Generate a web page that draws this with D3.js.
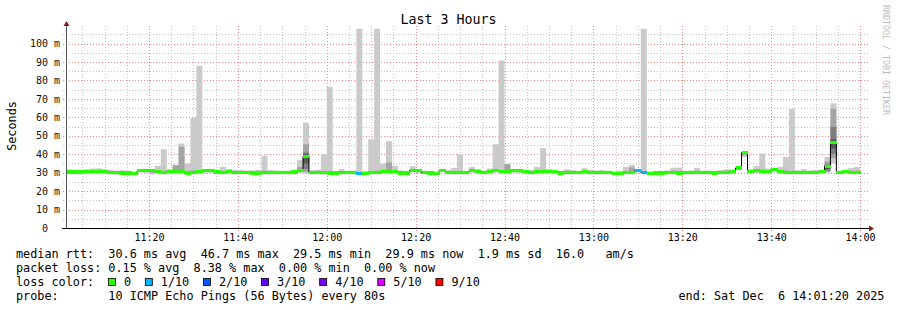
<!DOCTYPE html>
<html>
<head>
<meta charset="utf-8">
<script src="https://cdn.jsdelivr.net/npm/d3@7"></script>
<style>
  body { margin: 0; background: #fff; }
  svg text { font-family: "DejaVu Sans Mono", monospace; white-space: pre; }
</style>
</head>
<body>
<svg width="897" height="310"></svg>
<script>
// smokeping "Last 3 Hours" graph, 80s steps
const start = new Date(2025, 11, 6, 11, 1, 20);
const end = new Date(2025, 11, 6, 14, 1, 20);
const stepSec = 80;

const median = [30.4,30.4,30.5,30.5,30.6,30.6,30.6,30.3,30.0,29.8,29.8,29.6,31.0,31.2,31.0,30.6,30.3,30.5,30.6,30.8,
  29.8,30.3,30.5,31.0,31.0,30.4,30.1,30.8,30.3,30.3,30.3,29.8,29.8,30.2,30.2,30.2,30.3,30.1,30.4,31.3,
  38.9,30.0,30.3,30.0,29.8,29.8,29.9,30.2,30.0,29.6,29.6,29.9,30.1,30.5,30.6,30.6,29.8,29.8,31.3,31.0,
  30.0,29.8,29.5,31.3,30.3,30.1,30.0,30.0,31.0,30.8,30.3,30.5,31.2,30.5,30.6,31.0,31.0,30.5,30.0,30.5,
  30.8,30.6,30.6,29.8,30.3,30.3,30.3,30.5,30.2,30.2,30.2,30.3,29.6,29.6,30.0,30.2,31.2,30.1,29.7,29.8,
  29.8,30.0,30.0,29.8,29.9,30.0,30.0,30.2,30.0,29.8,30.3,30.3,30.8,32.5,40.8,30.6,31.0,30.5,30.5,31.8,
  30.8,30.3,30.0,30.2,30.0,30.2,30.0,30.5,33.2,46.3,30.1,30.6,30.2,29.9];

// smoke: p1 = fastest ping, p10 = slowest, p2/p9 second from each end
const p1 = [29.3,29.5,28.8,29.4,29.5,29.6,29.6,29.4,28.9,29.2,28.6,28.8,30.2,30.0,29.0,29.6,29.0,29.4,29.2,29.5,
  28.9,29.5,29.6,30.0,29.8,29.4,29.2,29.8,29.0,29.4,29.6,29.0,28.8,29.2,29.0,29.2,29.4,29.2,29.0,29.8,
  29.5,29.0,29.4,29.0,29.0,29.0,29.2,29.5,29.0,29.0,28.8,29.0,29.2,29.6,29.6,29.5,29.0,28.9,30.2,29.8,
  29.3,29.0,28.8,30.3,29.4,29.0,29.2,29.0,30.0,29.6,29.2,29.5,30.2,29.6,29.6,30.0,29.6,29.4,29.0,29.4,
  29.8,29.8,29.2,28.8,29.4,29.0,29.4,29.4,29.2,29.0,29.6,29.4,28.9,29.0,29.2,29.4,30.4,29.4,29.0,29.0,
  28.8,29.2,29.4,29.0,29.2,29.0,29.4,29.4,29.0,29.0,29.4,29.6,30.0,31.5,38.5,29.8,29.8,29.4,29.6,30.6,
  29.8,29.4,29.2,29.4,29.0,29.6,29.0,29.6,29.8,35.0,29.4,29.8,29.4,29.2];
const p2 = [29.8,29.9,29.6,29.9,30.0,30.1,30.0,29.8,29.4,29.4,29.2,29.1,30.5,30.6,30.0,30.1,29.6,29.9,29.8,30.1,
  29.3,29.9,30.0,30.5,30.4,29.9,29.6,30.3,29.6,29.8,29.9,29.3,29.2,29.7,29.6,29.7,29.8,29.6,29.7,30.4,
  30.5,29.5,29.8,29.5,29.3,29.3,29.5,29.8,29.5,29.2,29.1,29.4,29.6,30.0,30.1,30.0,29.3,29.3,30.7,30.4,
  29.6,29.3,29.1,30.8,29.8,29.5,29.6,29.5,30.5,30.2,29.7,30.0,30.7,30.0,30.1,30.5,30.3,29.9,29.5,29.9,
  30.3,30.2,29.9,29.2,29.8,29.6,29.8,29.9,29.7,29.6,29.9,29.8,29.2,29.3,29.6,29.8,30.8,29.7,29.3,29.4,
  29.3,29.6,29.6,29.4,29.5,29.5,29.6,29.8,29.5,29.4,29.8,29.9,30.4,32.0,39.5,30.2,30.4,29.9,30.0,31.2,
  30.3,29.8,29.6,29.8,29.5,29.9,29.5,30.0,30.5,38.0,29.7,30.2,29.8,29.5];
const p9 = [31.0,31.0,31.0,31.2,31.3,31.5,31.2,30.9,30.6,30.4,30.3,30.2,31.5,31.6,31.4,31.4,31.0,31.1,34.0,44.0,
  30.6,31.2,31.5,31.5,31.4,30.9,30.8,31.4,30.9,30.9,30.8,30.6,30.6,31.0,30.8,30.7,30.7,30.6,31.0,33.0,
  45.4,30.6,31.0,30.8,30.6,30.3,30.6,30.6,30.6,30.4,30.2,30.8,31.0,31.6,35.5,31.4,30.4,30.3,32.0,31.5,
  30.5,30.3,30.1,31.7,30.9,30.8,30.8,30.5,31.6,31.4,30.8,31.2,32.0,31.5,34.5,31.4,31.3,30.9,30.6,31.2,
  31.6,31.2,31.1,30.4,31.0,30.9,30.7,31.3,30.9,30.8,30.8,30.7,30.2,30.3,30.8,32.8,31.6,30.8,30.2,30.3,
  30.2,30.6,31.0,30.7,30.4,30.6,31.0,30.6,30.6,30.3,30.9,31.0,31.2,32.9,41.2,31.2,31.8,31.6,31.2,32.1,
  31.5,31.2,30.8,30.8,30.8,30.7,30.6,31.1,36.0,64.7,30.6,31.0,31.0,31.0];
const p10 = [31.8,31.5,31.5,31.8,32.2,32.4,32.0,31.6,31.2,31.3,30.8,30.5,31.8,32.0,31.6,33.7,42.7,31.8,34.3,45.8,
  35.0,59.6,88.0,31.8,31.6,31.3,33.0,32.0,31.6,31.4,31.2,31.2,31.6,39.0,31.5,31.2,31.0,31.0,31.5,36.8,
  57.0,31.3,31.6,40.0,76.4,30.8,32.0,31.0,31.2,108,31.0,48.1,108,35.0,47.0,33.7,31.2,30.8,33.5,32.0,
  31.0,30.8,30.5,32.0,31.4,32.5,40.0,31.0,33.0,32.0,31.2,32.3,45.4,90.8,35.0,31.8,31.5,31.2,31.5,33.0,
  43.2,32.0,31.6,31.0,31.8,31.4,31.0,32.4,31.6,31.2,31.4,31.0,30.8,31.0,33.0,34.2,32.0,108,30.6,30.8,
  30.6,31.3,32.6,32.6,31.0,31.2,32.6,31.0,31.2,30.8,31.5,31.8,31.6,33.2,41.6,31.8,33.5,40.4,32.3,32.3,
  33.0,38.5,64.7,31.3,32.0,31.2,31.5,31.6,38.5,67.6,31.0,31.4,32.5,33.0];

// inner smoke for the few steps where it shows: [step, p3, p4, p5, p6, p7, p8]
const innerSmoke = [
  [40, 32.0, 35.0, 38.5, 39.5, 40.0, 41.0],
  [128, 31.0, 32.0, 33.0, 33.5, 34.0, 34.5],
  [129, 40.0, 43.0, 45.5, 47.0, 48.1, 54.8]
];

// steps where 1 of 10 pings was lost
const lossSteps = [49, 96, 97];

const lossLabels = ["0", "1/10", "2/10", "3/10", "4/10", "5/10", "9/10"];
const lossColors = ["#26ff00", "#00b8ff", "#0059ff", "#5e00ff", "#7e00ff", "#dd00ff", "#ff0000"];
const smokeColors = ["#cacaca", "#a4a4a4", "#7e7e7e", "#585858", "#323232"];

const yTicks = [0, 10, 20, 30, 40, 50, 60, 70, 80, 90, 100];
const yMinor = [5, 15, 25, 35, 45, 55, 65, 75, 85, 95, 105];

const statsLine = "median rtt:  30.6 ms avg  46.7 ms max  29.5 ms min  29.9 ms now  1.9 ms sd  16.0   am/s";
const lossLine = "packet loss: 0.15 % avg  8.38 % max  0.00 % min  0.00 % now";
const probeLine = "probe:       10 ICMP Echo Pings (56 Bytes) every 80s";
const endLine = "end: Sat Dec  6 14:01:20 2025";

const svg = d3.select("svg");
const n = median.length;
const times = d3.range(n + 1).map(i => new Date(+start + i * stepSec * 1000));

const x = d3.scaleTime().domain([start, end]).range([66, 866]);
const y = d3.scaleLinear().domain([0, 109.5]).range([228, 26]);
const px = v => Math.round(v) + 0.5;

// grid
const grid = svg.append("g").attr("stroke-width", 1).attr("stroke-dasharray", "1,2");
const minorX = d3.timeMinute.every(5).range(start, end);
const majorX = d3.timeMinute.every(20).range(start, end);

grid.selectAll(".vmin").data(minorX).join("line")
  .attr("x1", d => px(x(d))).attr("x2", d => px(x(d)))
  .attr("y1", y.range()[1]).attr("y2", y(0))
  .attr("stroke", "#c4c4c4");
grid.selectAll(".hmin").data(yMinor).join("line")
  .attr("x1", 63).attr("x2", 868)
  .attr("y1", d => px(y(d))).attr("y2", d => px(y(d)))
  .attr("stroke", "#c4c4c4");
grid.selectAll(".vmaj").data(majorX).join("line")
  .attr("x1", d => px(x(d))).attr("x2", d => px(x(d)))
  .attr("y1", y.range()[1]).attr("y2", y(0) + 3)
  .attr("stroke", "#ef8a8a");
grid.selectAll(".hmaj").data(yTicks.slice(1)).join("line")
  .attr("x1", 63).attr("x2", 868)
  .attr("y1", d => px(y(d))).attr("y2", d => px(y(d)))
  .attr("stroke", "#ef8a8a");

// smoke
const pts = d3.range(n + 1).map(i => Math.min(i, n - 1));
const band = (lo, hi) => d3.area()
  .curve(d3.curveStepAfter)
  .x((k, i) => x(times[i]))
  .y0(k => y(lo[k]))
  .y1(k => y(hi[k]));

svg.append("path").attr("d", band(p1, p10)(pts)).attr("fill", smokeColors[0]);
svg.append("path").attr("d", band(p2, p9)(pts)).attr("fill", smokeColors[1]);

innerSmoke.forEach(s => {
  const k = s[0];
  [[s[1], s[6]], [s[2], s[5]], [s[3], s[4]]].forEach((r, j) => {
    svg.append("rect")
      .attr("x", x(times[k])).attr("width", x(times[k + 1]) - x(times[k]))
      .attr("y", y(r[1])).attr("height", y(r[0]) - y(r[1]))
      .attr("fill", smokeColors[j + 2]);
  });
});

// median line and loss coloured band
const medLine = d3.line()
  .curve(d3.curveStepAfter)
  .x((k, i) => x(times[i]))
  .y(k => y(median[k]));
svg.append("path").attr("d", medLine(pts))
  .attr("fill", "none").attr("stroke", "#000").attr("stroke-width", 1);

svg.append("g").attr("shape-rendering", "crispEdges")
  .selectAll("rect").data(median).join("rect")
  .attr("x", (d, i) => x(times[i]))
  .attr("width", (d, i) => x(times[i + 1]) - x(times[i]) + 0.5)
  .attr("y", d => y(d) - 1.6)
  .attr("height", 3.2)
  .attr("fill", (d, i) => lossSteps.includes(i) ? lossColors[1] : lossColors[0]);

// axes
const xAxis = d3.axisBottom(x).tickValues(majorX).tickFormat(d3.timeFormat("%H:%M"))
  .tickSize(0).tickPadding(6);
const gx = svg.append("g").attr("transform", "translate(0,228)").call(xAxis);
gx.select(".domain").remove();
gx.selectAll("text").attr("font-size", 10).attr("fill", "#000")
  .style("font-family", "'DejaVu Sans Mono', monospace");

const yAxis = d3.axisLeft(y).tickValues(yTicks).tickFormat(d => d ? d + " m" : "0  ")
  .tickSize(0).tickPadding(6);
const gy = svg.append("g").attr("transform", "translate(66,0)").call(yAxis);
gy.select(".domain").remove();
gy.selectAll("text").attr("font-size", 10).attr("fill", "#111")
  .style("font-family", "'DejaVu Sans Mono', monospace");

svg.append("line").attr("x1", px(y.range()[0] ? 66 : 66)).attr("x2", px(66))
  .attr("y1", y(0)).attr("y2", 24).attr("stroke", "#555");
svg.append("line").attr("x1", 62).attr("x2", 869).attr("y1", px(y(0))).attr("y2", px(y(0)))
  .attr("stroke", "#000");
svg.append("path").attr("d", "M869,225.5L874,228.5L869,231.5Z").attr("fill", "#8b1a1a");
svg.append("path").attr("d", "M63.5,26L66.5,21L69.5,26Z").attr("fill", "#8b1a1a");

// titles
svg.append("text").attr("x", 448.5).attr("y", 24).attr("text-anchor", "middle")
  .attr("font-size", 13.3).text("Last 3 Hours");
svg.append("text").attr("transform", "translate(15.5,126) rotate(-90)")
  .attr("text-anchor", "middle").attr("font-size", 11.8).text("Seconds");
svg.append("text").attr("transform", "translate(883,5) rotate(90)")
  .attr("font-size", 8.3).attr("fill", "#bdbdbd").text("RRDTOOL / TOBI OETIKER");

// legend
const fs = 11.8;
svg.append("text").attr("x", 16).attr("y", 258).attr("font-size", fs).text(statsLine);
svg.append("text").attr("x", 16).attr("y", 272).attr("font-size", fs).text(lossLine);
svg.append("text").attr("x", 16).attr("y", 286).attr("font-size", fs).text("loss color:");
svg.append("text").attr("x", 16).attr("y", 300).attr("font-size", fs).text(probeLine);
svg.append("text").attr("x", 678.5).attr("y", 300).attr("font-size", fs).text(endLine);

let lx = 108.5;
lossLabels.forEach((lab, i) => {
  svg.append("rect").attr("x", lx).attr("y", 278.5).attr("width", 7).attr("height", 7)
    .attr("fill", lossColors[i]).attr("stroke", "#000").attr("stroke-width", 0.8);
  const t = svg.append("text").attr("x", lx + 15.5).attr("y", 286).attr("font-size", fs).text(lab);
  lx += 15.5 + t.node().getComputedTextLength() + 14.2;
});
</script>
</body>
</html>
